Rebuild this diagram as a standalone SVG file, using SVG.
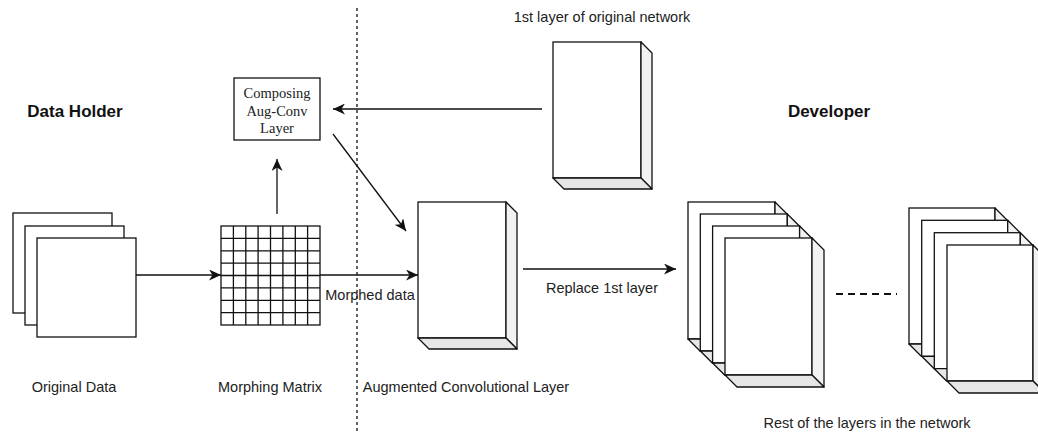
<svg xmlns="http://www.w3.org/2000/svg" width="1038" height="434" viewBox="0 0 1038 434">
<defs>
<style>
.s{fill:#fff;stroke:#111;stroke-width:1.3}
.rf{fill:#f2f2f2;stroke:#111;stroke-width:1.3;stroke-linejoin:round}
.bf{fill:#e6e6e6;stroke:#111;stroke-width:1.3;stroke-linejoin:round}
.ln{fill:none;stroke:#111;stroke-width:1.3}
.t{font-family:"Liberation Sans",Arial,sans-serif;font-size:14.5px;fill:#222;text-anchor:middle}
.b{font-family:"Liberation Sans",Arial,sans-serif;font-size:17px;font-weight:bold;fill:#111;text-anchor:middle}
.sf{font-family:"Liberation Serif","Times New Roman",serif;font-size:14.5px;fill:#222;text-anchor:middle}
</style>
<marker id="ah" markerUnits="userSpaceOnUse" markerWidth="13" markerHeight="11" viewBox="0 0 13 11" refX="12" refY="5.5" orient="auto">
<path d="M0,0 L12,5.5 L0,11 L3.5,5.5 Z" fill="#111"/>
</marker>
<g id="box88">
<rect class="s" x="0" y="0" width="88" height="136"/>
<path class="rf" d="M88,0 L99,11 L99,147 L88,136 Z"/>
<path class="bf" d="M0,136 L88,136 L99,147 L11,147 Z"/>
</g>
<g id="box87">
<rect class="s" x="0" y="0" width="87" height="137"/>
<path class="rf" d="M87,0 L99,12 L99,149 L87,137 Z"/>
<path class="bf" d="M0,137 L87,137 L99,149 L12,149 Z"/>
</g>
<g id="box86">
<rect class="s" x="0" y="0" width="86" height="136"/>
<path class="rf" d="M86,0 L98,12 L98,148 L86,136 Z"/>
<path class="bf" d="M0,136 L86,136 L98,148 L12,148 Z"/>
</g>
</defs>
<rect width="1038" height="434" fill="#fff"/>

<g id="divider">
<line x1="357" y1="8" x2="357" y2="434" stroke="#111" stroke-width="1.3" stroke-dasharray="3 3"/>
</g>

<g id="data-holder-title"><text class="b" x="75" y="117">Data Holder</text></g>
<g id="developer-title"><text class="b" x="829" y="117">Developer</text></g>

<g id="original-data">
<rect class="s" x="13" y="213" width="99" height="100"/>
<rect class="s" x="25" y="226" width="99" height="99"/>
<rect class="s" x="37" y="238" width="99" height="99"/>
<text class="t" x="74" y="392">Original Data</text>
</g>

<g id="morphing-matrix">
<rect class="s" x="221" y="226" width="99" height="99"/>
<path class="ln" d="M233.4,226V325M245.8,226V325M258.1,226V325M270.5,226V325M282.9,226V325M295.3,226V325M307.6,226V325M221,238.4H320M221,250.8H320M221,263.1H320M221,275.5H320M221,287.9H320M221,300.3H320M221,312.6H320"/>
<text class="t" x="270" y="392">Morphing Matrix</text>
</g>

<g id="composing">
<rect class="s" x="234" y="78" width="86" height="62"/>
<text class="sf" x="277" y="98">Composing</text>
<text class="sf" x="277" y="116">Aug-Conv</text>
<text class="sf" x="277" y="133">Layer</text>
</g>

<g id="first-layer">
<use href="#box88" x="553" y="42"/>
<text class="t" x="602" y="22">1st layer of original network</text>
</g>

<g id="aug-conv">
<use href="#box88" x="418" y="202"/>
<text class="t" x="466" y="392">Augmented Convolutional Layer</text>
</g>

<g id="rest-stack-1">
<use href="#box87" x="688" y="202"/>
<use href="#box87" x="700.3" y="214"/>
<use href="#box87" x="712.6" y="226"/>
<use href="#box87" x="725" y="238"/>
</g>
<g id="rest-stack-2">
<use href="#box86" x="909" y="208"/>
<use href="#box86" x="921.7" y="220.3"/>
<use href="#box86" x="934.3" y="232.7"/>
<use href="#box86" x="947" y="245"/>
</g>
<g id="rest-label"><text class="t" x="867" y="428">Rest of the layers in the network</text></g>

<g id="connectors">
<line class="ln" x1="136" y1="275" x2="221" y2="275" marker-end="url(#ah)"/>
<line class="ln" x1="277" y1="214" x2="277" y2="159" marker-end="url(#ah)"/>
<line class="ln" x1="542" y1="109" x2="333" y2="109" marker-end="url(#ah)"/>
<line class="ln" x1="333" y1="134" x2="406" y2="231" marker-end="url(#ah)"/>
<line class="ln" x1="320" y1="275" x2="418" y2="275" marker-end="url(#ah)"/>
<line class="ln" x1="523" y1="269" x2="676" y2="269" marker-end="url(#ah)"/>
<line x1="836" y1="294" x2="897" y2="294" stroke="#111" stroke-width="2" stroke-dasharray="7 5"/>
<text class="t" x="370" y="300">Morphed data</text>
<text class="t" x="602" y="293">Replace 1st layer</text>
</g>
</svg>
